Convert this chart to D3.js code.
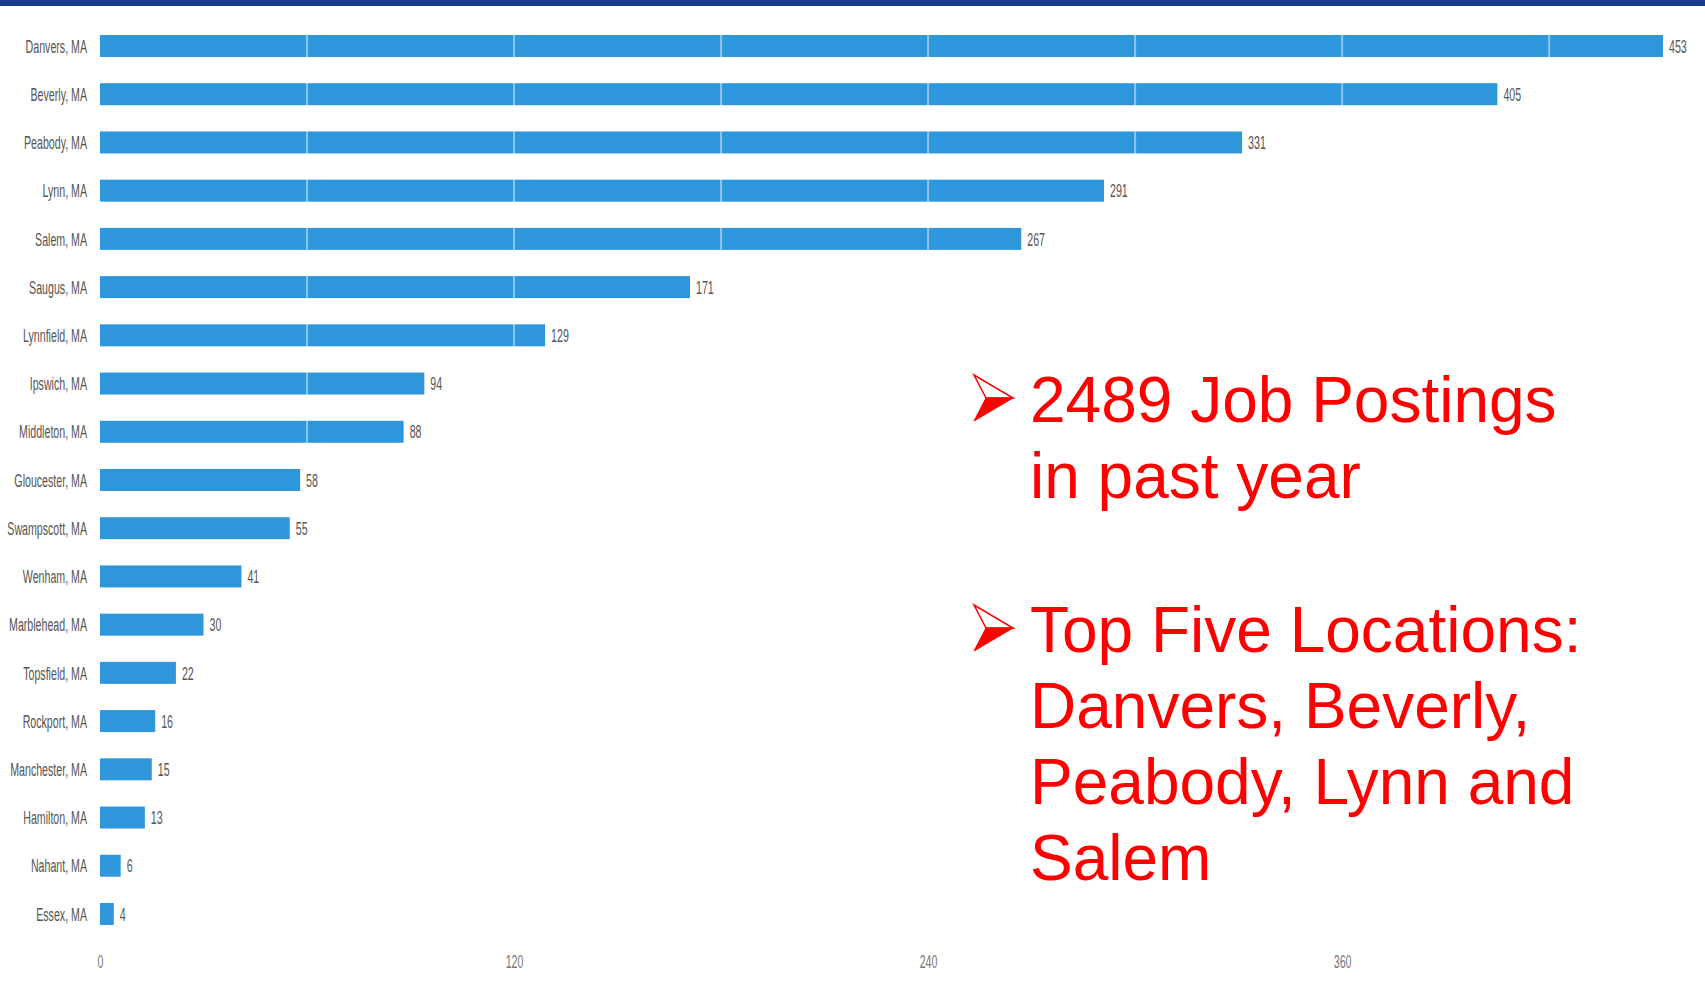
<!DOCTYPE html>
<html lang="en">
<head>
    <meta charset="UTF-8">
    <title>Job Postings by Location</title>
    <script src="https://d3js.org/d3.v7.min.js"></script>
    <style>
        html, body { margin: 0; padding: 0; background: #fff; }
        svg { display: block; }
    </style>
</head>
<body>
    <svg width="1705" height="993"></svg>

    <script>
        // Data
        const locations = ["Danvers, MA", "Beverly, MA", "Peabody, MA", "Lynn, MA", "Salem, MA",
            "Saugus, MA", "Lynnfield, MA", "Ipswich, MA", "Middleton, MA", "Gloucester, MA",
            "Swampscott, MA", "Wenham, MA", "Marblehead, MA", "Topsfield, MA", "Rockport, MA",
            "Manchester, MA", "Hamilton, MA", "Nahant, MA", "Essex, MA"];
        const postings = [453, 405, 331, 291, 267, 171, 129, 94, 88, 58, 55, 41, 30, 22, 16, 15, 13, 6, 4];
        const tickLabels = [0, 120, 240, 360];
        const gridValues = [60, 120, 180, 240, 300, 360, 420];

        const bullets = [
            ["2489 Job Postings", "in past year"],
            ["Top Five Locations:", "Danvers, Beverly,", "Peabody, Lynn and", "Salem"]
        ];

        const width = 1705;
        const height = 993;
        const squeeze = 0.56;   // small chart text is narrow in the picture

        const svg = d3.select("svg")
            .attr("width", width)
            .attr("height", height);

        // Top band
        svg.append("rect")
            .attr("x", 0).attr("y", 0)
            .attr("width", width).attr("height", 6)
            .attr("fill", "#183a8b");

        const x = d3.scaleLinear()
            .domain([0, 453])
            .range([100, 1663]);

        const y = d3.scaleBand()
            .domain(locations)
            .range([21.9, 21.9 + 19 * 48.22])
            .paddingInner(0.544)
            .paddingOuter(0.272);

        // Bars
        svg.selectAll("rect.bar")
            .data(locations)
            .enter().append("rect")
            .attr("class", "bar")
            .attr("x", x(0))
            .attr("y", d => y(d))
            .attr("width", (d, i) => x(postings[i]) - x(0))
            .attr("height", y.bandwidth())
            .attr("fill", "#2e96db");

        // Grid lines show only over the bars
        svg.selectAll("line.grid")
            .data(gridValues)
            .enter().append("line")
            .attr("class", "grid")
            .attr("x1", d => x(d)).attr("x2", d => x(d))
            .attr("y1", y.range()[0]).attr("y2", y.range()[1])
            .attr("stroke", "#fff")
            .attr("stroke-opacity", 0.45)
            .attr("stroke-width", 2);

        // Location labels
        const yAxis = svg.append("g")
            .attr("transform", `translate(${x(0)},0)`)
            .call(d3.axisLeft(y).tickSize(0).tickPadding(0));
        yAxis.select(".domain").remove();
        yAxis.selectAll("text")
            .attr("x", -13 / squeeze)
            .attr("dy", "0.35em")
            .attr("transform", `scale(${squeeze},1)`)
            .attr("fill", "#555")
            .style("font-family", "'Liberation Sans', Arial, sans-serif")
            .style("font-size", "19px");

        // Value labels
        svg.selectAll("text.value")
            .data(locations)
            .enter().append("text")
            .attr("class", "value")
            .attr("transform", (d, i) => `translate(${x(postings[i]) + 6},${y(d) + y.bandwidth() / 2}) scale(${squeeze},1)`)
            .attr("dy", "0.35em")
            .attr("fill", "#555")
            .style("font-family", "'Liberation Sans', Arial, sans-serif")
            .style("font-size", "19px")
            .text((d, i) => postings[i]);

        // Bottom tick labels
        const xAxis = svg.append("g")
            .attr("transform", "translate(0,955)")
            .call(d3.axisBottom(x).tickValues(tickLabels).tickSize(0).tickPadding(0));
        xAxis.select(".domain").remove();
        xAxis.selectAll("text")
            .attr("y", 0)
            .attr("dy", "0.71em")
            .attr("transform", `scale(${squeeze},1)`)
            .attr("fill", "#777")
            .style("font-family", "'Liberation Sans', Arial, sans-serif")
            .style("font-size", "19px");

        // Red bullet text
        const lineHeight = 76;
        const baselines = [422, 652];
        const textX = 1030;

        bullets.forEach((lines, b) => {
            const base = baselines[b];
            const g = svg.append("g");

            // arrowhead bullet
            const top = base - 47, bottom = base - 1, mid = (top + bottom) / 2;
            g.append("path")
                .attr("d", `M974,${top} L1013,${mid} L986,${mid} Z`)
                .attr("fill", "#fff")
                .attr("stroke", "#ff0000")
                .attr("stroke-width", 1.5)
                .attr("stroke-linejoin", "miter");
            g.append("path")
                .attr("d", `M986,${mid} L1013,${mid} L974,${bottom} Z`)
                .attr("fill", "#ff0000")
                .attr("stroke", "#ff0000")
                .attr("stroke-width", 1);

            g.selectAll("text")
                .data(lines)
                .enter().append("text")
                .attr("x", textX)
                .attr("y", (d, i) => base + i * lineHeight)
                .attr("fill", "#ff0000")
                .style("font-family", "'Liberation Sans', Arial, sans-serif")
                .style("font-size", "64px")
                .text(d => d);
        });
    </script>
</body>
</html>
